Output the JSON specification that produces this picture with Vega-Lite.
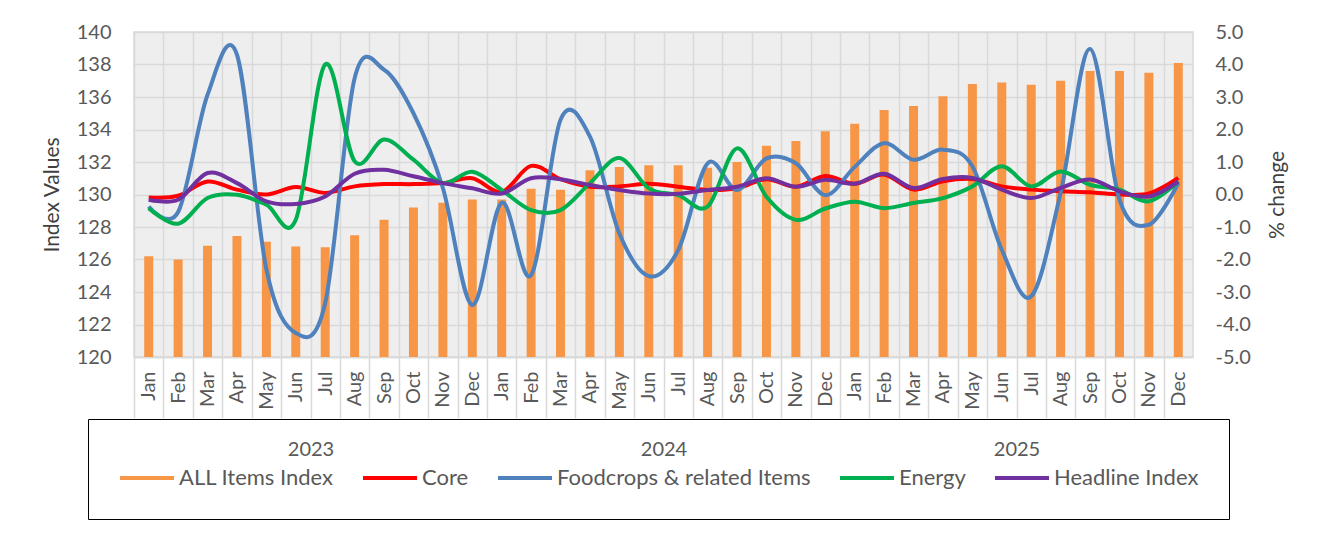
{
  "$schema": "https://vega.github.io/schema/vega-lite/v6.json",
  "width": 1059,
  "height": 325,
  "autosize": {"type": "none"},
  "padding": {"left": 134, "top": 32, "right": 124, "bottom": 180},
  "background": "white",
  "config": {
    "font": "Lato",
    "view": {"fill": "#eeeeee", "stroke": "#d9d9d9", "strokeWidth": 1.5},
    "axis": {"labelFont": "Lato", "titleFont": "Lato", "labelColor": "#595959", "labelFontSize": 20}
  },
  "data": {
    "values": [
      {"ym": "2023-01", "all": 126.2, "core": -0.09, "food": -0.37, "energy": -0.42, "headline": -0.16},
      {"ym": "2023-02", "all": 126.0, "core": -0.04, "food": -0.54, "energy": -0.9, "headline": -0.16},
      {"ym": "2023-03", "all": 126.85, "core": 0.4, "food": 3.07, "energy": -0.11, "headline": 0.66},
      {"ym": "2023-04", "all": 127.45, "core": 0.15, "food": 4.3, "energy": -0.01, "headline": 0.35},
      {"ym": "2023-05", "all": 127.1, "core": 0.0, "food": -2.3, "energy": -0.31, "headline": -0.21},
      {"ym": "2023-06", "all": 126.8, "core": 0.23, "food": -4.26, "energy": -0.78, "headline": -0.29},
      {"ym": "2023-07", "all": 126.75, "core": 0.05, "food": -3.34, "energy": 4.0, "headline": -0.06},
      {"ym": "2023-08", "all": 127.5, "core": 0.25, "food": 3.58, "energy": 1.02, "headline": 0.64},
      {"ym": "2023-09", "all": 128.45, "core": 0.32, "food": 3.84, "energy": 1.69, "headline": 0.76},
      {"ym": "2023-10", "all": 129.2, "core": 0.32, "food": 2.5, "energy": 1.07, "headline": 0.56},
      {"ym": "2023-11", "all": 129.5, "core": 0.35, "food": 0.2, "energy": 0.35, "headline": 0.35},
      {"ym": "2023-12", "all": 129.7, "core": 0.5, "food": -3.4, "energy": 0.7, "headline": 0.19},
      {"ym": "2024-01", "all": 129.7, "core": 0.08, "food": -0.25, "energy": 0.14, "headline": 0.03},
      {"ym": "2024-02", "all": 130.35, "core": 0.88, "food": -2.48, "energy": -0.48, "headline": 0.5},
      {"ym": "2024-03", "all": 130.3, "core": 0.47, "food": 2.3, "energy": -0.48, "headline": 0.47},
      {"ym": "2024-04", "all": 131.5, "core": 0.24, "food": 1.78, "energy": 0.35, "headline": 0.29},
      {"ym": "2024-05", "all": 131.7, "core": 0.25, "food": -1.2, "energy": 1.12, "headline": 0.14},
      {"ym": "2024-06", "all": 131.8, "core": 0.33, "food": -2.51, "energy": 0.19, "headline": 0.03},
      {"ym": "2024-07", "all": 131.8, "core": 0.24, "food": -1.71, "energy": -0.02, "headline": 0.02},
      {"ym": "2024-08", "all": 131.65, "core": 0.14, "food": 0.96, "energy": -0.37, "headline": 0.14},
      {"ym": "2024-09", "all": 132.0, "core": 0.19, "food": 0.14, "energy": 1.42, "headline": 0.24},
      {"ym": "2024-10", "all": 133.0, "core": 0.47, "food": 1.11, "energy": -0.07, "headline": 0.5},
      {"ym": "2024-11", "all": 133.3, "core": 0.24, "food": 0.96, "energy": -0.78, "headline": 0.24},
      {"ym": "2024-12", "all": 133.9, "core": 0.57, "food": -0.02, "energy": -0.43, "headline": 0.45},
      {"ym": "2025-01", "all": 134.35, "core": 0.33, "food": 0.85, "energy": -0.22, "headline": 0.33},
      {"ym": "2025-02", "all": 135.2, "core": 0.61, "food": 1.58, "energy": -0.42, "headline": 0.64},
      {"ym": "2025-03", "all": 135.45, "core": 0.15, "food": 1.07, "energy": -0.26, "headline": 0.2},
      {"ym": "2025-04", "all": 136.05, "core": 0.41, "food": 1.38, "energy": -0.11, "headline": 0.48},
      {"ym": "2025-05", "all": 136.8, "core": 0.48, "food": 0.87, "energy": 0.25, "headline": 0.51},
      {"ym": "2025-06", "all": 136.9, "core": 0.25, "food": -1.7, "energy": 0.87, "headline": 0.15},
      {"ym": "2025-07", "all": 136.75, "core": 0.15, "food": -3.13, "energy": 0.25, "headline": -0.11},
      {"ym": "2025-08", "all": 137.0, "core": 0.1, "food": 0.05, "energy": 0.71, "headline": 0.2},
      {"ym": "2025-09", "all": 137.6, "core": 0.07, "food": 4.48, "energy": 0.3, "headline": 0.46},
      {"ym": "2025-10", "all": 137.6, "core": 0.0, "food": -0.16, "energy": 0.15, "headline": 0.1},
      {"ym": "2025-11", "all": 137.5, "core": 0.03, "food": -0.93, "energy": -0.21, "headline": -0.06},
      {"ym": "2025-12", "all": 138.1, "core": 0.51, "food": 0.35, "energy": 0.4, "headline": 0.4}
    ]
  },
  "layer": [
    {
      "mark": {"type": "bar", "size": 9, "clip": true},
      "encoding": {
        "x": {
          "field": "ym", "type": "ordinal",
          "scale": {"paddingInner": 0, "paddingOuter": 0},
          "axis": {
            "orient": "bottom", "title": null, "labelAngle": -90,
            "labelExpr": "['Jan','Feb','Mar','Apr','May','Jun','Jul','Aug','Sep','Oct','Nov','Dec'][toNumber(slice(datum.value,5,7))-1]",
            "tickOffset": -14.708, "labelOffset": 14.708,
            "ticks": false, "tickSize": 0, "labelPadding": 14,
            "grid": true, "gridColor": "#d9d9d9", "gridWidth": 1.5,
            "domainColor": "#d9d9d9", "domainWidth": 1.5
          }
        },
        "y": {
          "field": "all", "type": "quantitative",
          "scale": {"domain": [120, 140], "nice": false, "zero": false},
          "axis": {
            "title": "Index Values", "orient": "left",
            "values": [120, 122, 124, 126, 128, 130, 132, 134, 136, 138, 140],
            "grid": true, "gridColor": "#d9d9d9", "gridWidth": 1.5,
            "domain": false, "ticks": false, "labelPadding": 23,
            "titleFontSize": 21, "titleFontWeight": "normal", "titleColor": "#404040", "titlePadding": 14
          }
        },
        "color": {
          "datum": "all", "type": "nominal",
          "scale": {
            "domain": ["all", "core", "food", "energy", "headline"],
            "range": ["#F79646", "#FF0000", "#4F81BD", "#00B050", "#7030A0"]
          },
          "legend": {
            "orient": "none", "legendX": -46, "legendY": 387,
            "direction": "horizontal", "columns": 5, "title": null,
            "strokeColor": "black", "padding": 30, "columnPadding": 21,
            "symbolType": "stroke", "symbolSize": 2916, "symbolStrokeWidth": 4,
            "labelFont": "Lato", "labelFontSize": 22, "labelColor": "#595959", "labelOffset": 3, "labelLimit": 0,
            "labelExpr": "datum.value==='all' ? 'ALL Items Index' : datum.value==='core' ? 'Core' : datum.value==='food' ? 'Foodcrops & related Items' : datum.value==='energy' ? 'Energy' : 'Headline Index'"
          }
        }
      }
    },
    {
      "transform": [{"fold": ["core", "food", "energy", "headline"], "as": ["series", "pct"]}],
      "mark": {"type": "line", "interpolate": "cardinal", "strokeWidth": 4},
      "encoding": {
        "x": {
          "field": "ym", "type": "ordinal",
          "axis": {
            "orient": "bottom", "title": null, "domain": false, "grid": false,
            "labelExpr": "slice(datum.value,5,7)==='07' ? slice(datum.value,0,4) : ''",
            "labelAngle": 0, "labelAlign": "center", "labelBaseline": "top",
            "tickOffset": -14.708, "labelOffset": 0,
            "ticks": true, "tickSize": 61, "tickColor": "#d9d9d9", "tickWidth": 1.5,
            "labelPadding": 21, "labelFontSize": 20
          }
        },
        "y": {
          "field": "pct", "type": "quantitative",
          "scale": {"domain": [-5, 5], "nice": false, "zero": false},
          "axis": {
            "title": "% change", "orient": "right",
            "values": [-5, -4, -3, -2, -1, 0, 1, 2, 3, 4, 5],
            "labelExpr": "replace(format(datum.value, '.1f'), '\u2212', '-')",
            "grid": false, "domain": false, "ticks": false, "labelPadding": 22,
            "titleAngle": 270, "titleFontSize": 21, "titleFontWeight": "normal", "titleColor": "#404040", "titlePadding": 37
          }
        },
        "color": {"field": "series", "type": "nominal", "legend": {"title": null}}
      }
    }
  ],
  "resolve": {"scale": {"y": "independent"}, "axis": {"x": "independent"}}
}
